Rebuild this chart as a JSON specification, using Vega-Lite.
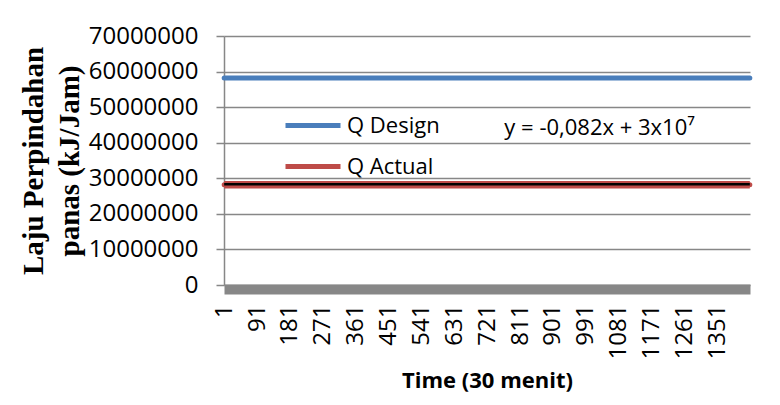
{
  "$schema": "https://vega.github.io/schema/vega-lite/v6.json",
  "width": 526,
  "height": 249,
  "autosize": {"type": "none"},
  "padding": {"left": 224, "top": 36, "right": 30, "bottom": 120},
  "background": "white",
  "config": {
    "view": {"stroke": null},
    "font": "Open Sans"
  },
  "datasets": {
    "series": [
      {"t": 1, "value": 58200000, "series": "Q Design"},
      {"t": 91, "value": 58200000, "series": "Q Design"},
      {"t": 181, "value": 58200000, "series": "Q Design"},
      {"t": 271, "value": 58200000, "series": "Q Design"},
      {"t": 361, "value": 58200000, "series": "Q Design"},
      {"t": 451, "value": 58200000, "series": "Q Design"},
      {"t": 541, "value": 58200000, "series": "Q Design"},
      {"t": 631, "value": 58200000, "series": "Q Design"},
      {"t": 721, "value": 58200000, "series": "Q Design"},
      {"t": 811, "value": 58200000, "series": "Q Design"},
      {"t": 901, "value": 58200000, "series": "Q Design"},
      {"t": 991, "value": 58200000, "series": "Q Design"},
      {"t": 1081, "value": 58200000, "series": "Q Design"},
      {"t": 1171, "value": 58200000, "series": "Q Design"},
      {"t": 1261, "value": 58200000, "series": "Q Design"},
      {"t": 1351, "value": 58200000, "series": "Q Design"},
      {"t": 1440, "value": 58200000, "series": "Q Design"},
      {"t": 1, "value": 28200000, "series": "Q Actual"},
      {"t": 91, "value": 28200000, "series": "Q Actual"},
      {"t": 181, "value": 28200000, "series": "Q Actual"},
      {"t": 271, "value": 28200000, "series": "Q Actual"},
      {"t": 361, "value": 28200000, "series": "Q Actual"},
      {"t": 451, "value": 28200000, "series": "Q Actual"},
      {"t": 541, "value": 28200000, "series": "Q Actual"},
      {"t": 631, "value": 28200000, "series": "Q Actual"},
      {"t": 721, "value": 28200000, "series": "Q Actual"},
      {"t": 811, "value": 28200000, "series": "Q Actual"},
      {"t": 901, "value": 28200000, "series": "Q Actual"},
      {"t": 991, "value": 28200000, "series": "Q Actual"},
      {"t": 1081, "value": 28200000, "series": "Q Actual"},
      {"t": 1171, "value": 28200000, "series": "Q Actual"},
      {"t": 1261, "value": 28200000, "series": "Q Actual"},
      {"t": 1351, "value": 28200000, "series": "Q Actual"},
      {"t": 1440, "value": 28200000, "series": "Q Actual"}
    ],
    "trend": [
      {"t": 1, "value": 28300000},
      {"t": 1440, "value": 28299882}
    ],
    "note": [
      {"t": 768, "value": 44200000, "label": "y = -0,082x + 3x10⁷"}
    ]
  },
  "encoding": {
    "x": {
      "field": "t",
      "type": "quantitative",
      "scale": {"domain": [0.5, 1440.5], "nice": false, "zero": false},
      "axis": {
        "values": [1, 91, 181, 271, 361, 451, 541, 631, 721, 811, 901, 991, 1081, 1171, 1261, 1351],
        "format": "d",
        "labelAngle": -90,
        "labelFontSize": 24,
        "labelColor": "#000000",
        "labelPadding": 15,
        "ticks": false,
        "tickSize": 0,
        "grid": false,
        "domainColor": "#878787",
        "domainWidth": 10,
        "offset": 4,
        "title": "Time (30 menit)",
        "titleFontSize": 22,
        "titleFontWeight": "bold",
        "titleColor": "#000000",
        "titlePadding": 12
      }
    },
    "y": {
      "field": "value",
      "type": "quantitative",
      "scale": {"domain": [0, 70000000], "nice": false},
      "axis": {
        "values": [0, 10000000, 20000000, 30000000, 40000000, 50000000, 60000000, 70000000],
        "format": "d",
        "labelFontSize": 24,
        "labelColor": "#000000",
        "labelPadding": 18,
        "tickSize": 8,
        "tickColor": "#878787",
        "tickWidth": 1.5,
        "grid": true,
        "gridColor": "#878787",
        "gridWidth": 1.5,
        "domainColor": "#878787",
        "domainWidth": 1.5,
        "title": ["Laju Perpindahan", "panas (kJ/Jam)"],
        "titleFont": "Liberation Serif",
        "titleFontSize": 29,
        "titleFontWeight": "bold",
        "titleColor": "#000000",
        "titleAngle": -90,
        "titleAlign": "center",
        "titleBaseline": "alphabetic",
        "titleLineHeight": 36,
        "titleX": -182,
        "titleY": 124.5
      }
    }
  },
  "layer": [
    {
      "data": {"name": "series"},
      "mark": {"type": "line", "strokeWidth": 5, "strokeCap": "round"},
      "encoding": {
        "detail": {"field": "series"},
        "color": {
          "field": "series",
          "type": "nominal",
          "scale": {"domain": ["Q Design", "Q Actual"], "range": ["#4A7EBB", "#BE4B48"]},
          "legend": {
            "title": null,
            "orient": "none",
            "legendX": 59,
            "legendY": 59.5,
            "padding": 0,
            "symbolType": "stroke",
            "symbolSize": 3025,
            "symbolStrokeWidth": 5,
            "symbolOffset": 0,
            "labelFontSize": 22,
            "labelColor": "#000000",
            "labelOffset": 4,
            "rowPadding": -20.5
          }
        }
      }
    },
    {
      "data": {"name": "series"},
      "transform": [{"filter": "datum.series === 'Q Actual'"}],
      "mark": {"type": "line", "strokeWidth": 7.5, "color": "#BE4B48"},
      "encoding": {}
    },
    {
      "data": {"name": "trend"},
      "mark": {"type": "line", "strokeWidth": 2.5, "color": "#000000"},
      "encoding": {}
    },
    {
      "data": {"name": "note"},
      "mark": {"type": "text", "align": "left", "baseline": "middle", "fontSize": 22, "color": "#000000"},
      "encoding": {"text": {"field": "label"}}
    }
  ]
}
